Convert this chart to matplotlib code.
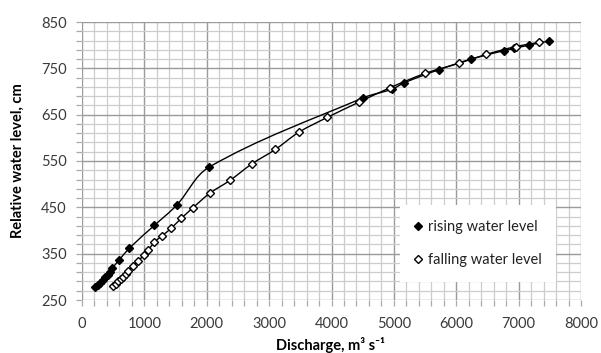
import numpy as np
import matplotlib
matplotlib.use("Agg")
import matplotlib.pyplot as plt
from matplotlib.path import Path
from matplotlib.patches import PathPatch
from matplotlib.ticker import MultipleLocator

plt.rcParams['font.family'] = ['Lato', 'DejaVu Sans']

# rising water level (filled diamonds)
rise_q = [210, 250, 290, 330, 370, 410, 445, 480, 595, 760, 1160, 1520, 2040,
          4500, 4970, 5170, 5720, 6240, 6760, 6930, 7160, 7490]
rise_h = [277, 282, 287, 293, 299, 305, 311, 318, 336, 362, 411, 455, 537,
          686, 705, 719, 747, 770, 788, 793, 800, 809]

# falling water level (open diamonds)
fall_q = [503, 545, 584, 624, 664, 704, 744, 825, 905, 996, 1066, 1162, 1280,
          1430, 1590, 1778, 2045, 2370, 2726, 3100, 3475, 3931, 4440, 4936,
          5500, 6045, 6480, 6956, 7330]
fall_h = [280, 285, 290, 295, 300, 306, 312, 323, 335, 347, 358, 375, 388,
          405, 426, 449, 480, 508, 544, 575, 612, 644, 677, 708,
          739, 761, 780, 797, 806]

x_ticks = np.arange(0, 8001, 1000)
y_ticks = np.arange(250, 851, 100)


def smooth_line(ax, xs, ys, k=0.34, **kw):
    # excel-like smoothed line: cubic bezier through the points (display space)
    pts = ax.transData.transform(np.column_stack([xs, ys]))
    n = len(pts)
    verts = [pts[0]]
    codes = [Path.MOVETO]
    for i in range(n - 1):
        p0 = pts[max(i - 1, 0)]
        p1 = pts[i]
        p2 = pts[i + 1]
        p3 = pts[min(i + 2, n - 1)]
        seg = np.hypot(*(p2 - p1))
        t1 = p2 - p0
        t2 = p3 - p1
        t1 = t1 / (np.hypot(*t1) or 1)
        t2 = t2 / (np.hypot(*t2) or 1)
        c1 = p1 + k * seg * t1
        c2 = p2 - k * seg * t2
        verts += [c1, c2, p2]
        codes += [Path.CURVE4] * 3
    verts = ax.transData.inverted().transform(np.array(verts))
    ax.add_patch(PathPatch(Path(verts, codes), fill=False, **kw))


fig = plt.figure(figsize=(6.01, 3.53), dpi=100)
ax = fig.add_axes([82 / 601, 1 - 300 / 353, 499 / 601, 278 / 353])
ax.set_xlim(0, 8000)
ax.set_ylim(250, 850)

ax.xaxis.set_major_locator(MultipleLocator(1000))
ax.xaxis.set_minor_locator(MultipleLocator(200))
ax.set_yticks(y_ticks)
ax.yaxis.set_minor_locator(MultipleLocator(20, offset=10))
ax.set_xticks(x_ticks)

ax.grid(which='minor', color='#cdcdcd', lw=0.9)
ax.grid(which='major', color='#9a9a9a', lw=1.0)
ax.set_axisbelow(True)
for s in ax.spines.values():
    s.set_visible(False)
ax.tick_params(which='both', length=4, width=0.9, color='#aaaaaa', direction='out')
ax.tick_params(axis='y', which='both', labelsize=10.5, pad=7, labelcolor='#3a3a3a')
ax.tick_params(axis='x', which='both', labelsize=10.5, pad=8, labelcolor='#3a3a3a')

smooth_line(ax, rise_q, rise_h, color='black', lw=1.0, zorder=3)
smooth_line(ax, fall_q, fall_h, color='black', lw=1.0, zorder=3)
ax.plot(rise_q, rise_h, ls='none', marker='D', ms=4.5, color='black',
        zorder=4, label='rising water level')
ax.plot(fall_q, fall_h, ls='none', marker='D', ms=4.5, mfc='white', mec='black',
        mew=1.0, zorder=4, label='falling water level')

leg = ax.legend(loc='lower right', bbox_to_anchor=(0.965, 0.04), fontsize=10.5,
                frameon=True, fancybox=False, facecolor='white', edgecolor='none',
                framealpha=1, handlelength=0.5, handletextpad=0.4,
                labelspacing=1.3, borderpad=1.0, markerscale=0.9)
for t in leg.get_texts():
    t.set_color('#222222')

fig.text(18 / 601, 1 - 161 / 353, 'Relative water level, cm', rotation=90,
         ha='center', va='center', fontsize=10.5, fontweight='bold')
fig.text(331 / 601, 1 - 345 / 353, 'Discharge, m³ s⁻¹', ha='center',
         va='center', fontsize=10.5, fontweight='bold')

fig.savefig('out.png', dpi=100)
